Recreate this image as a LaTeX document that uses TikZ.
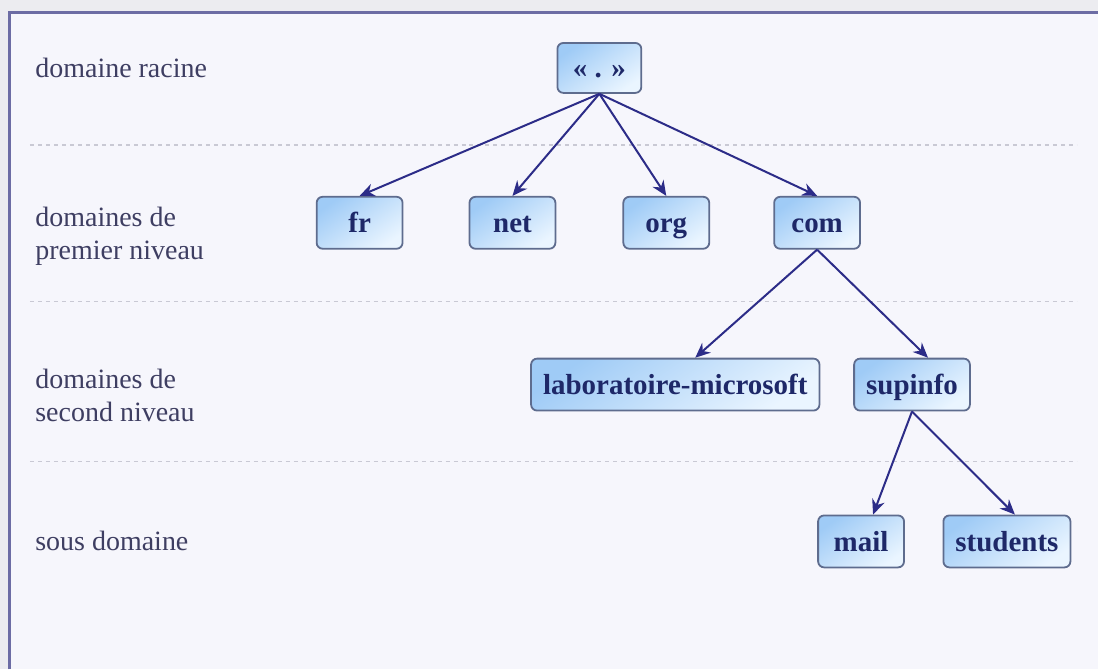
\documentclass[tikz,border=0pt]{standalone}
\usepackage{fontspec}
\setmainfont{Liberation Serif}
\usetikzlibrary{arrows.meta}

\definecolor{pagebg}{HTML}{F6F6FC}
\definecolor{outerbg}{HTML}{ECECF0}
\definecolor{framecol}{HTML}{6C6CA4}
\definecolor{labelcol}{HTML}{3E3E62}
\definecolor{nodetext}{HTML}{1E2868}
\definecolor{nodeborder}{HTML}{5E6C8E}
\definecolor{blueA}{HTML}{9FCBF6}
\definecolor{blueB}{HTML}{EAF5FF}
\definecolor{arrowcol}{HTML}{2C2C88}
\definecolor{dashcol}{HTML}{C9C9D4}

\tikzset{
  dom/.style={draw=nodeborder, line width=0.9pt, rounded corners=3pt,
    top color=blueA, bottom color=blueB, shading angle=35,
    text=nodetext, font=\fontsize{14.5}{16}\selectfont\bfseries,
    text height=11pt, text depth=1pt,
    minimum width=43pt, minimum height=26pt, inner xsep=6pt},
  levellabel/.style={anchor=west, align=left, text=labelcol,
    font=\fontsize{14}{16.5}\selectfont, inner sep=0pt},
  link/.style={draw=arrowcol, line width=1pt,
    -{Stealth[length=7.5pt, width=6.5pt]}},
  separator/.style={draw=dashcol, line width=0.8pt, dash pattern=on 2pt off 2pt}
}

\begin{document}
\begin{tikzpicture}[x=0.5pt, y=-0.5pt]
  % page and frame
  \fill[outerbg] (0,0) rectangle (1099,670);
  \fill[pagebg] (9,12) rectangle (1099,670);
  \draw[framecol, line width=1.2pt] (9.5,670) -- (9.5,12.5) -- (1099,12.5);
  \useasboundingbox (0,0) rectangle (1099,670);

  % level separators
  \draw[separator] (30,145) -- (1078,145);
  \draw[separator] (30,302) -- (1078,302);
  \draw[separator] (30,462) -- (1078,462);

  % level labels
  \node[levellabel] (lroot) at (35,68) {domaine racine};
  \node[levellabel] (ltop) at (35,237) {domaines de\\premier niveau};
  \node[levellabel] (lsecond) at (35,396) {domaines de\\second niveau};
  \node[levellabel] (lsub) at (35,542) {sous domaine};

  % domain tree
  \node[dom, minimum width=42pt, minimum height=25pt] (root) at (600,68) {« . »};
  \node[dom] (fr) at (360,223) {fr};
  \node[dom] (net) at (513,223) {net};
  \node[dom] (org) at (667,223) {org};
  \node[dom] (com) at (818,223) {com};
  \node[dom] (lab) at (676,385) {laboratoire-microsoft};
  \node[dom] (supinfo) at (913,385) {supinfo};
  \node[dom] (mail) at (862,542) {mail};
  \node[dom] (students) at (1008,542) {students};

  \draw[link] (root.south) -- (fr.north);
  \draw[link] (root.south) -- (net.north);
  \draw[link] (root.south) -- (org.north);
  \draw[link] (root.south) -- (com.north);
  \draw[link] (com.south) -- ([xshift=10]lab.north);
  \draw[link] (com.south) -- ([xshift=8]supinfo.north);
  \draw[link] (supinfo.south) -- ([xshift=6]mail.north);
  \draw[link] (supinfo.south) -- ([xshift=4]students.north);
\end{tikzpicture}
\end{document}
